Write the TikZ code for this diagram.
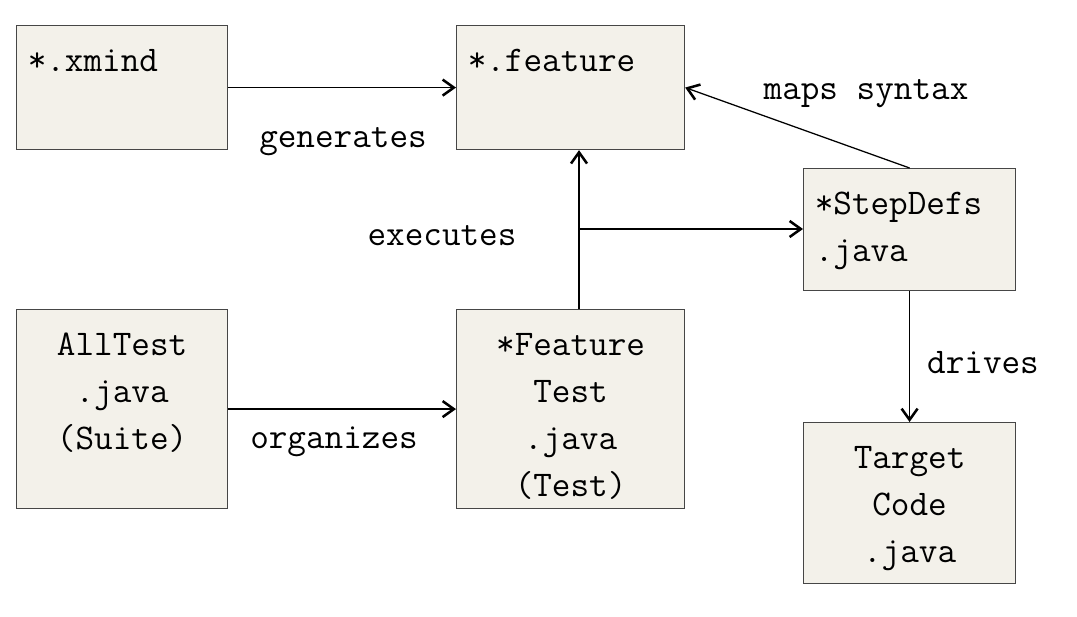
\documentclass[tikz,border=0pt]{standalone}
\usepackage{fontspec}
\usetikzlibrary{arrows.meta}
\definecolor{boxfill}{RGB}{243,241,234}
\definecolor{boxline}{RGB}{70,70,70}
\newcommand{\ftext}[4]{\parbox[c][#2][t]{#1}{#3\rule{0pt}{1.15cm}#4}}
\newcommand{\lft}{\raggedright\leftskip=0.28cm\relax}
\begin{document}
\begin{tikzpicture}[x=0.025cm, y=-0.025cm, font=\ttfamily\fontsize{25.7}{33.4}\selectfont,
	file/.style={draw=boxline, fill=boxfill, line width=0.8pt, inner sep=0pt, anchor=north west},
	conn/.style={line width=0.9pt, -{Straight Barb[length=2.8mm, width=4mm, line width=1.8pt]}},
	lbl/.style={anchor=base, inner sep=0pt}]
	\useasboundingbox[fill=white] (0,0) rectangle (1077,617);
	\node[file] (xmind) at (16,25) {\ftext{5.275cm}{3.1cm}{\lft}{*.xmind}};
	\node[file] (feature) at (456,25) {\ftext{5.7cm}{3.1cm}{\lft}{*.feature}};
	\node[file] (steps) at (803,168) {\ftext{5.3cm}{3.05cm}{\lft}{*StepDefs\\.java}};
	\node[file] (alltest) at (16,309) {\ftext{5.275cm}{4.975cm}{\centering}{AllTest\\.java\\(Suite)}};
	\node[file] (ftest) at (456,309) {\ftext{5.7cm}{4.975cm}{\centering}{*Feature\\Test\\.java\\(Test)}};
	\node[file] (target) at (803,422) {\ftext{5.3cm}{4.025cm}{\centering}{Target\\Code\\.java}};
	\coordinate (exec) at (579,229);
	
	\draw[conn] (xmind) -- (feature);
	\draw[conn] (exec |- ftest.north) -- (exec |- feature.south);
	\draw[conn] (exec) -- (exec -| steps.west);
	\draw[conn] (steps.north) -- (feature.east);
	\draw[conn] (steps) -- (target);
	\draw[conn] (alltest) -- (ftest);
	
	\node[lbl] (gen) at (343,148) {generates};
	\node[lbl] (exe) at (442,245) {executes};
	\node[lbl] (map) at (866,100) {maps syntax};
	\node[lbl] (drv) at (983,373) {drives};
	\node[lbl] (org) at (334,448) {organizes};
\end{tikzpicture}
\end{document}
